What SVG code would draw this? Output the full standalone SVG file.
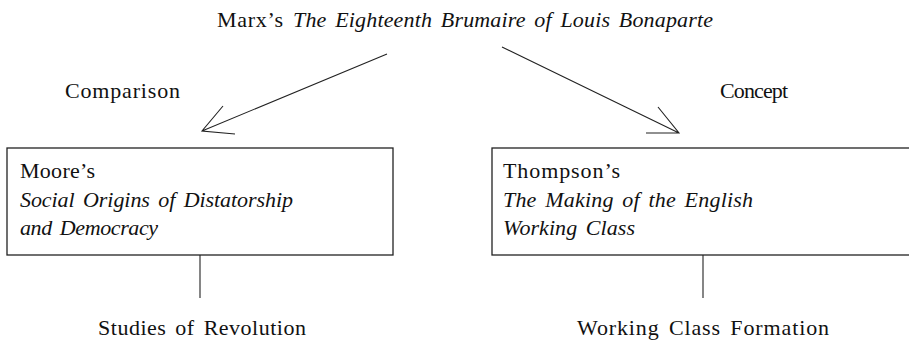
<svg xmlns="http://www.w3.org/2000/svg" width="909" height="341" viewBox="0 0 909 341">
<style>
text{font-family:"Liberation Serif","Times New Roman",serif;font-size:22px;fill:#111;word-spacing:3px}
.i{font-style:italic}
.ln{stroke:#222;stroke-width:1.1;fill:none}
.box{stroke:#222;stroke-width:1.3;fill:#fff}
</style>
<g id="connectors">
<path class="ln" d="M387,54 L202,131 M223,106 L202,131 L235,134"/>
<path class="ln" d="M502,47 L679,133 M658,107 L679,133 L646,133"/>
<path class="ln" d="M200,255 V298"/>
<path class="ln" d="M703,255 V298"/>
</g>
<g id="title">
<text x="217" y="27" textLength="66" lengthAdjust="spacing">Marx’s</text>
<text class="i" x="293" y="27" textLength="420" lengthAdjust="spacing">The Eighteenth Brumaire of Louis Bonaparte</text>
</g>
<g id="label-comparison"><text x="65" y="98" textLength="115" lengthAdjust="spacing">Comparison</text></g>
<g id="label-concept"><text x="720" y="98" textLength="68" lengthAdjust="spacing">Concept</text></g>
<g id="moore">
<rect class="box" x="7" y="148" width="386" height="107"/>
<text x="20" y="178" textLength="75" lengthAdjust="spacing">Moore’s</text>
<text class="i" x="20" y="207" textLength="273" lengthAdjust="spacing">Social Origins of Distatorship</text>
<text class="i" x="20" y="235" textLength="138" lengthAdjust="spacing">and Democracy</text>
</g>
<g id="thompson">
<rect class="box" x="492" y="148" width="430" height="107"/>
<text x="503" y="178" textLength="117" lengthAdjust="spacing">Thompson’s</text>
<text class="i" x="503" y="207" textLength="250" lengthAdjust="spacing">The Making of the English</text>
<text class="i" x="503" y="235" textLength="132" lengthAdjust="spacing">Working Class</text>
</g>
<g id="studies"><text x="98" y="335" textLength="208" lengthAdjust="spacing">Studies of Revolution</text></g>
<g id="formation"><text x="577" y="335" textLength="252" lengthAdjust="spacing">Working Class Formation</text></g>
</svg>
